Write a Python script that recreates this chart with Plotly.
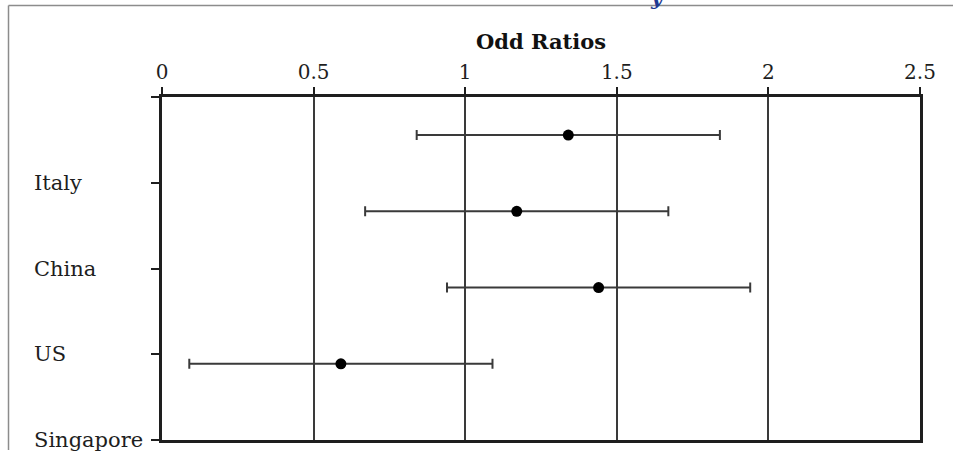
import plotly.graph_objects as go

# ---- data ----
countries = ["Italy", "China", "US", "Singapore"]
odds_ratio = [1.34, 1.17, 1.44, 0.59]
ci_half = [0.5, 0.5, 0.5, 0.5]
x_ticks = [0, 0.5, 1, 1.5, 2, 2.5]
x_ticklabels = ["0", "0.5", "1", "1.5", "2", "2.5"]
axis_title = "Odd Ratios"

FONT = "DejaVu Serif"
DARK = "#1e1e1e"
GRID = "#3a3a3a"

fig = go.Figure()

# points with horizontal confidence bars (on a hidden categorical axis)
fig.add_trace(go.Scatter(
    x=odds_ratio,
    y=countries,
    yaxis="y2",
    mode="markers",
    marker=dict(color="black", size=11, symbol="circle"),
    error_x=dict(type="data", array=ci_half, color=GRID, thickness=2, width=5),
    showlegend=False,
    hoverinfo="x+y",
))

# category labels on the visible axis (left aligned, as in the reference)
label_order = list(reversed(countries))  # bottom-up: Singapore, US, China, Italy
annotations = []
for i, name in enumerate(label_order):
    annotations.append(dict(
        x=-0.1715, xref="paper", xanchor="left",
        y=i, yref="y", yanchor="middle",
        text=name, showarrow=False,
        font=dict(family=FONT, size=21, color=DARK),
    ))

# cut-off heading fragment at the very top
annotations.append(dict(
    x=0.653, xref="paper", xanchor="center",
    y=1.2478, yref="paper", yanchor="bottom",
    text="<i><b>y</b></i>", showarrow=False,
    font=dict(family=FONT, size=20, color="#1F3A93"),
))

# outer grey frame (top and left edges)
shapes = [
    dict(type="line", xref="paper", yref="paper", x0=-0.2025, x1=1.05,
         y0=1.2668, y1=1.2668, line=dict(color="#8c8c8c", width=1.5)),
    dict(type="line", xref="paper", yref="paper", x0=-0.2025, x1=-0.2025,
         y0=1.2668, y1=-0.029, line=dict(color="#8c8c8c", width=1.5)),
]

fig.update_layout(
    width=953, height=459,
    margin=dict(l=162, r=33, t=97, b=19),
    paper_bgcolor="white", plot_bgcolor="white",
    font=dict(family=FONT, size=20, color=DARK),
    xaxis=dict(
        side="top",
        range=[0, 2.5],
        tickmode="array", tickvals=x_ticks, ticktext=x_ticklabels,
        ticks="outside", ticklen=7, tickwidth=2, tickcolor=DARK,
        showgrid=True, gridcolor=GRID, gridwidth=2,
        showline=True, linecolor=DARK, linewidth=2.5, mirror=True,
        zeroline=False,
        tickfont=dict(family=FONT, size=20, color=DARK),
        title=dict(text="<b>" + axis_title + "</b>", standoff=5,
                   font=dict(family=FONT, size=21, color="#111111")),
    ),
    yaxis=dict(
        range=[0, 4],
        tickmode="array", tickvals=[0, 1, 2, 3, 4],
        showticklabels=False,
        ticks="outside", ticklen=8, tickwidth=2, tickcolor=DARK,
        showgrid=False, zeroline=False,
        showline=True, linecolor=DARK, linewidth=3, mirror=True,
    ),
    yaxis2=dict(
        overlaying="y", type="category",
        categoryorder="array", categoryarray=label_order,
        range=[-1, 3.5],
        visible=False, showgrid=False,
    ),
    annotations=annotations,
    shapes=shapes,
)

fig.write_html(
    "out.html",
    config={"displayModeBar": False},
    post_script="document.body.style.margin='0';document.body.style.overflow='hidden';",
)
